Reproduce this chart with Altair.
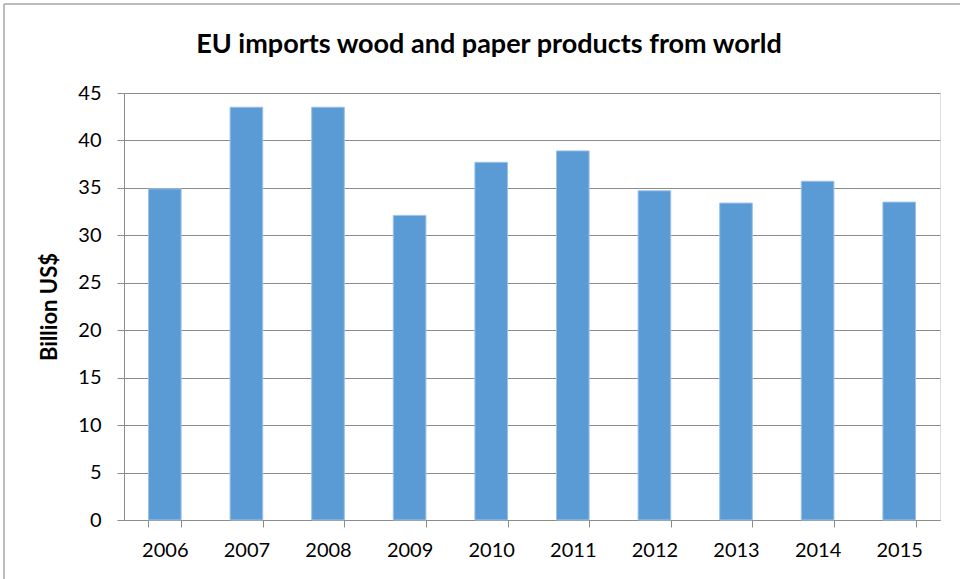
import altair as alt
import pandas as pd

years = ["2006", "2007", "2008", "2009", "2010", "2011", "2012", "2013", "2014", "2015"]
values = [34.9, 43.5, 43.5, 32.1, 37.7, 38.9, 34.7, 33.4, 35.7, 33.5]
y_ticks = [0, 5, 10, 15, 20, 25, 30, 35, 40, 45]
title_text = "EU imports wood and paper products from world"

df = pd.DataFrame({"year": years, "value": values})

FONT = "Lato"
GRID = "#8c8c8c"

base = alt.Chart(df)

bars = base.mark_bar(color="#5b9bd5", stroke="#9dc3e6", strokeWidth=1).encode(
    x=alt.X(
        "year:N",
        sort=years,
        scale=alt.Scale(paddingInner=0.6, paddingOuter=0.3),
        axis=alt.Axis(
            title=None,
            labelAngle=0,
            labelFont=FONT,
            labelFontSize=20,
            labelColor="#000000",
            labelPadding=13,
            tickBand="extent",
            tickSize=7,
            tickColor=GRID,
            domainColor=GRID,
            grid=False,
        ),
    ),
    y=alt.Y(
        "value:Q",
        scale=alt.Scale(domain=[0, 45], nice=False),
        axis=alt.Axis(
            title="Billion US$",
            values=y_ticks,
            titleFont=FONT,
            titleFontSize=22,
            titleFontWeight="bold",
            titleColor="#000000",
            titlePadding=16,
            labelFont=FONT,
            labelFontSize=20,
            labelColor="#000000",
            labelPadding=16,
            tickSize=7,
            tickColor=GRID,
            domainColor=GRID,
            gridColor=GRID,
            gridWidth=1,
        ),
    ),
)

one = pd.DataFrame({"a": [0]})

border_left = alt.Chart(one).mark_rule(color="#a6a6a6", strokeWidth=1.5).encode(
    x=alt.value(-120), y=alt.value(-89), y2=alt.value(600)
)
border_top = alt.Chart(one).mark_rule(color="#a6a6a6", strokeWidth=1.5).encode(
    x=alt.value(-120), x2=alt.value(900), y=alt.value(-89)
)

title = alt.Chart(one).mark_text(
    text=title_text,
    font=FONT,
    fontSize=27,
    fontWeight="bold",
    color="#000000",
    align="center",
    baseline="alphabetic",
).encode(x=alt.value(365), y=alt.value(-40))

chart = (
    alt.layer(border_left, border_top, title, bars)
    .properties(
        width=816,
        height=427,
        padding={"left": 124, "top": 93, "right": 20, "bottom": 59},
        autosize=alt.AutoSizeParams(type="none"),
    )
    .configure_view(stroke=None)
    .configure(background="white")
)

chart.save("out.html", embed_options={"renderer": "svg", "actions": False})
